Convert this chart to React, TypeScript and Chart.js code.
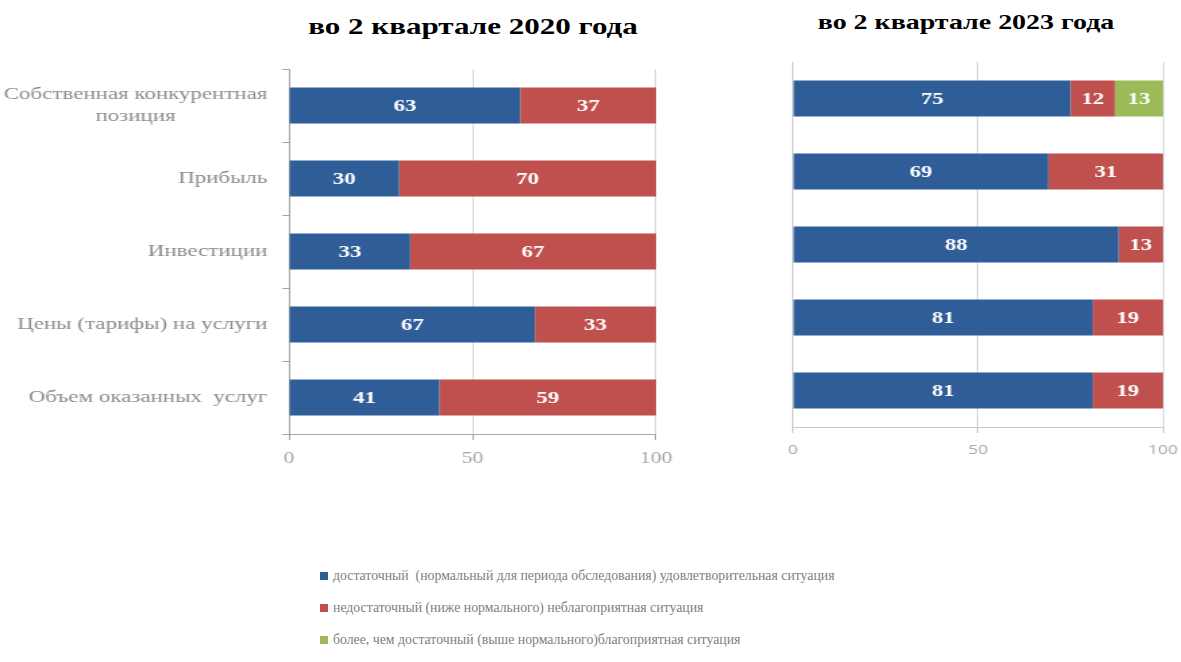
import React, { useEffect, useRef } from "react";
import { Chart, registerables } from "chart.js";

Chart.register(...registerables);

const categories = [
  ["Собственная конкурентная", "позиция" + "\u00A0".repeat(16)],
  "Прибыль",
  "Инвестиции",
  "Цены (тарифы) на услуги",
  "Объем оказанных  услуг",
];

const seriesNames = [
  "достаточный  (нормальный для периода обследования) удовлетворительная ситуация",
  "недостаточный (ниже нормального) неблагоприятная ситуация",
  "более, чем достаточный (выше нормального)благоприятная ситуация",
];

const sufficient2020 = [63, 30, 33, 67, 41];
const insufficient2020 = [37, 70, 67, 33, 59];

const sufficient2023 = [75, 69, 88, 81, 81];
const insufficient2023 = [12, 31, 13, 19, 19];
const moreThan2023 = [13, null, null, null, null];

const xTicks = [0, 50, 100];

const titles = ["во 2 квартале 2020 года", "во 2 квартале 2023 года"];

const BLUE = "#2E5D97";
const RED = "#C0504D";
const GREEN = "#9BBB59";

const labelPlugin = {
  id: "segLabels",
  afterDatasetsDraw(chart: any) {
    const ctx = chart.ctx;
    const area = chart.chartArea;
    ctx.save();
    ctx.fillStyle = "#FFFFFF";
    ctx.font = "bold 17px 'Liberation Serif'";
    ctx.textAlign = "center";
    ctx.textBaseline = "middle";
    chart.data.datasets.forEach((ds: any, di: number) => {
      const meta = chart.getDatasetMeta(di);
      meta.data.forEach((bar: any, i: number) => {
        const v = ds.data[i];
        if (v === null || v === undefined) return;
        const a = Math.max(area.left, Math.min(bar.x, bar.base));
        const b = Math.min(area.right, Math.max(bar.x, bar.base));
        ctx.fillText(String(v), (a + b) / 2, bar.y + 1);
      });
    });
    ctx.restore();
  },
};

function makeConfig(
  datasets: any[],
  opts: {
    showY: boolean;
    yWidth: number;
    padTop: number;
    padRight: number;
    tickFont: any;
    tickPad: number;
    axisColor: string;
  }
) {
  return {
    type: "bar" as const,
    data: { labels: categories, datasets },
    plugins: [labelPlugin],
    options: {
      indexAxis: "y" as const,
      animation: false as const,
      responsive: true,
      maintainAspectRatio: false,
      layout: { padding: { top: opts.padTop, right: opts.padRight, left: 0, bottom: 0 } },
      plugins: { legend: { display: false }, tooltip: { enabled: false }, title: { display: false } },
      datasets: { bar: { categoryPercentage: 1, barPercentage: 0.495 } },
      scales: {
        x: {
          stacked: true,
          min: 0,
          max: 100,
          afterBuildTicks: (scale: any) => {
            scale.ticks = xTicks.map((v) => ({ value: v }));
          },
          afterFit: (scale: any) => {
            scale.height = 46;
            scale.paddingLeft = 0;
            scale.paddingRight = 0;
          },
          grid: { color: "#D9D9D9", tickLength: 6, tickColor: opts.axisColor, lineWidth: 1 },
          border: { color: opts.axisColor },
          ticks: { color: "#A6A6A6", font: opts.tickFont, padding: opts.tickPad, maxRotation: 0 },
        },
        y: {
          stacked: true,
          afterFit: (scale: any) => {
            scale.width = opts.yWidth;
            scale.paddingTop = 0;
            scale.paddingBottom = 0;
          },
          grid: { display: opts.showY, drawOnChartArea: false, offset: true, tickLength: 5, color: opts.axisColor },
          border: { display: true, color: opts.axisColor },
          ticks: {
            display: opts.showY,
            color: "#8C8C8C",
            font: { family: "'Liberation Serif'", size: 17, lineHeight: 1.3 },
            padding: 11,
          },
        },
      },
    },
  };
}

function BarChart({ config, style, sx }: { config: any; style: React.CSSProperties; sx: number }) {
  const ref = useRef<HTMLCanvasElement | null>(null);
  useEffect(() => {
    if (!ref.current) return;
    const chart = new Chart(ref.current, config);
    return () => chart.destroy();
  }, [config]);
  return (
    <div
      style={{
        position: "absolute",
        transform: `scaleX(${sx})`,
        transformOrigin: "left top",
        ...style,
      }}
    >
      <canvas ref={ref} />
    </div>
  );
}

const S_LEFT = 1.35;
const S_RIGHT = 1.33;

const leftConfig = makeConfig(
  [
    { label: seriesNames[0], data: sufficient2020, backgroundColor: BLUE },
    { label: seriesNames[1], data: insufficient2020, backgroundColor: RED },
  ],
  {
    showY: true,
    yWidth: 289 / S_LEFT,
    padTop: 19,
    padRight: 504 - 656 / S_LEFT,
    tickFont: { family: "'Liberation Serif'", size: 16 },
    tickPad: 9,
    axisColor: "#A6A6A6",
  }
);

const rightConfig = makeConfig(
  [
    { label: seriesNames[0], data: sufficient2023, backgroundColor: BLUE },
    { label: seriesNames[1], data: insufficient2023, backgroundColor: RED },
    { label: seriesNames[2], data: moreThan2023, backgroundColor: GREEN },
  ],
  {
    showY: false,
    yWidth: 33 / S_RIGHT,
    padTop: 22,
    padRight: 317 - 403 / S_RIGHT,
    tickFont: { family: "'Open Sans'", size: 13 },
    tickPad: 9,
    axisColor: "#C8C8C8",
  }
);

const legendColors = [BLUE, RED, GREEN];

export default function App() {
  return (
    <div
      style={{
        position: "absolute",
        left: 0,
        top: 0,
        width: 1181,
        height: 662,
        background: "#FFFFFF",
        overflow: "hidden",
      }}
    >
      <div
        style={{
          position: "absolute",
          left: 273,
          width: 400,
          top: 14,
          textAlign: "center",
          fontFamily: "'Liberation Serif'",
          fontWeight: "bold",
          fontSize: 23,
          color: "#000",
          whiteSpace: "nowrap",
          transform: `scaleX(${S_LEFT})`,
          transformOrigin: "center top",
        }}
      >
        {titles[0]}
      </div>
      <div
        style={{
          position: "absolute",
          left: 766,
          width: 400,
          top: 10,
          textAlign: "center",
          fontFamily: "'Liberation Serif'",
          fontWeight: "bold",
          fontSize: 21,
          color: "#000",
          whiteSpace: "nowrap",
          transform: `scaleX(${S_RIGHT})`,
          transformOrigin: "center top",
        }}
      >
        {titles[1]}
      </div>
      <BarChart config={leftConfig} sx={S_LEFT} style={{ left: 0, top: 50, width: 504, height: 430 }} />
      <BarChart config={rightConfig} sx={S_RIGHT} style={{ left: 760, top: 40, width: 317, height: 433 }} />
      <div style={{ position: "absolute", left: 320, top: 565 }}>
        {seriesNames.map((name, i) => (
          <div
            key={i}
            style={{
              height: 32,
              display: "flex",
              alignItems: "center",
              whiteSpace: "pre",
              fontFamily: "'Liberation Serif'",
              fontSize: 13.8,
              color: "#808080",
            }}
          >
            <span
              style={{
                display: "inline-block",
                width: 8,
                height: 8,
                background: legendColors[i],
                marginRight: 5,
                marginTop: -10,
              }}
            />
            <span style={{ marginTop: -10 }}>{name}</span>
          </div>
        ))}
      </div>
    </div>
  );
}
